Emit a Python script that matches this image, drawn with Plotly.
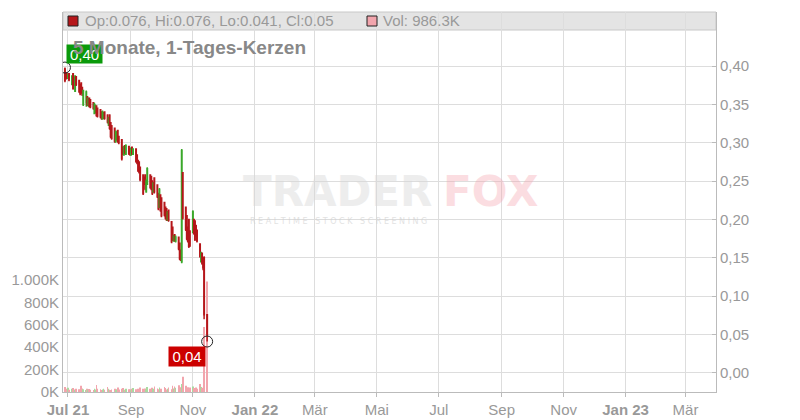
import plotly.graph_objects as go

# ---------------- data ----------------
dates = [
    "2021-06-28", "2021-06-29", "2021-06-30",
    "2021-07-01", "2021-07-02", "2021-07-05", "2021-07-06", "2021-07-07", "2021-07-08", "2021-07-09",
    "2021-07-12", "2021-07-13", "2021-07-14", "2021-07-15", "2021-07-16", "2021-07-19", "2021-07-20",
    "2021-07-21", "2021-07-22", "2021-07-23", "2021-07-26", "2021-07-27", "2021-07-28", "2021-07-29",
    "2021-07-30",
    "2021-08-02", "2021-08-03", "2021-08-04", "2021-08-05", "2021-08-06", "2021-08-09", "2021-08-10",
    "2021-08-11", "2021-08-12", "2021-08-13", "2021-08-16", "2021-08-17", "2021-08-18", "2021-08-19",
    "2021-08-20", "2021-08-23", "2021-08-24", "2021-08-25", "2021-08-26", "2021-08-27", "2021-08-30",
    "2021-08-31",
    "2021-09-01", "2021-09-02", "2021-09-03", "2021-09-06", "2021-09-07", "2021-09-08", "2021-09-09",
    "2021-09-10", "2021-09-13", "2021-09-14", "2021-09-15", "2021-09-16", "2021-09-17", "2021-09-20",
    "2021-09-21", "2021-09-22", "2021-09-23", "2021-09-24", "2021-09-27", "2021-09-28", "2021-09-29",
    "2021-09-30",
    "2021-10-01", "2021-10-04", "2021-10-05", "2021-10-06", "2021-10-07", "2021-10-08", "2021-10-11",
    "2021-10-12", "2021-10-13", "2021-10-14", "2021-10-15", "2021-10-18", "2021-10-19", "2021-10-20",
    "2021-10-21", "2021-10-22", "2021-10-25", "2021-10-26", "2021-10-27", "2021-10-28", "2021-10-29",
    "2021-11-01", "2021-11-02", "2021-11-03", "2021-11-04", "2021-11-05", "2021-11-08", "2021-11-09",
    "2021-11-10", "2021-11-11", "2021-11-12", "2021-11-15",
]

open_ = [
    .396, .391, .389,
    .384, .390, .376, .390, .385, .367, .386, .381, .376, .378, .372, .350, .352, .360, .349, .358, .356,
    .352, .338, .340, .348, .345,
    .343, .340, .331, .333, .340, .336, .323, .336, .326, .322, .319, .302, .305, .316, .308, .304, .294,
    .284, .296, .285, .295, .292,
    .284, .294, .285, .292, .284, .277, .275, .268, .258, .255, .258, .236, .246, .258, .256, .250, .236,
    .254, .245, .234, .216, .232,
    .228, .222, .216, .214, .199, .212, .197, .190, .172, .180, .172, .177, .169, .160, .145, .261, .216,
    .205, .190, .200, .185,
    .183, .200, .198, .192, .186, .168, .145, .156, .150, .150, .076,
]
high = [
    .398, .392, .391,
    .390, .391, .388, .391, .386, .388, .387, .382, .377, .379, .373, .369, .368, .361, .359, .359, .357,
    .353, .352, .350, .349, .346,
    .344, .341, .342, .340, .341, .337, .334, .337, .327, .323, .320, .316, .315, .317, .309, .305, .295,
    .296, .297, .298, .296, .293,
    .294, .295, .293, .293, .285, .278, .276, .269, .259, .256, .259, .252, .268, .259, .257, .251, .249,
    .255, .246, .235, .241, .233,
    .229, .223, .217, .215, .211, .213, .198, .191, .180, .181, .179, .178, .170, .161, .292, .262, .217,
    .206, .191, .201, .186,
    .212, .201, .199, .193, .187, .169, .158, .157, .151, .152, .076,
]
low = [
    .379, .382, .383,
    .383, .380, .375, .369, .374, .366, .374, .365, .362, .364, .361, .348, .347, .348, .347, .346, .345,
    .343, .337, .338, .334, .333,
    .332, .330, .330, .331, .330, .325, .322, .317, .306, .304, .300, .300, .303, .300, .298, .277, .284,
    .283, .285, .284, .284, .283,
    .283, .284, .284, .274, .272, .262, .260, .250, .232, .245, .238, .235, .245, .240, .238, .232, .235,
    .234, .228, .212, .215, .210,
    .203, .204, .200, .198, .198, .197, .169, .172, .171, .171, .170, .160, .147, .146, .143, .200, .185,
    .173, .170, .163, .164,
    .182, .180, .172, .178, .170, .150, .144, .141, .134, .070, .041,
]
close = [
    .381, .384, .385,
    .389, .382, .387, .371, .376, .387, .376, .367, .364, .366, .363, .368, .366, .350, .358, .348, .347,
    .345, .350, .348, .336, .335,
    .334, .332, .340, .338, .332, .327, .333, .319, .308, .306, .302, .314, .313, .302, .300, .279, .286,
    .294, .288, .296, .286, .285,
    .292, .286, .292, .276, .274, .264, .262, .252, .234, .247, .240, .250, .266, .242, .240, .234, .247,
    .236, .230, .214, .239, .212,
    .205, .206, .202, .200, .209, .199, .171, .174, .178, .173, .177, .162, .149, .148, .290, .202, .187,
    .175, .172, .165, .166,
    .210, .182, .174, .180, .172, .152, .156, .143, .137, .076, .050,
]
volume_k = [
    45, 30, 25,
    38, 20, 28, 35, 22, 18, 30, 25, 20, 56, 32, 24, 18, 30, 22, 26, 20, 15, 28, 22, 62, 30,
    25, 18, 22, 30, 20, 45, 28, 20, 15, 22, 30, 18, 25, 40, 22, 28, 35, 20, 18, 30, 25, 22,
    20, 28, 35, 25, 18, 30, 22, 40, 28, 20, 32, 25, 45, 30, 22, 38, 28, 50, 32, 25, 40, 30,
    28, 45, 35, 22, 30, 40, 25, 55, 32, 48, 38, 60, 42, 30, 71, 137, 55, 35, 42, 28, 40,
    48, 35, 25, 40, 30, 71, 45, 38, 30, 580, 986.3,
]

x_tickvals = ["2021-07-01", "2021-09-01", "2021-11-01", "2022-01-01", "2022-03-01", "2022-05-01",
              "2022-07-01", "2022-09-01", "2022-11-01", "2023-01-01", "2023-03-01"]
x_ticktext = ["<b>Jul 21</b>", "Sep", "Nov", "<b>Jan 22</b>", "Mär", "Mai", "Jul", "Sep", "Nov",
              "<b>Jan 23</b>", "Mär"]
price_ticks = [0.0, 0.05, 0.10, 0.15, 0.20, 0.25, 0.30, 0.35, 0.40]
price_ticktext = ["0,00", "0,05", "0,10", "0,15", "0,20", "0,25", "0,30", "0,35", "0,40"]
vol_ticks = [0, 200000, 400000, 600000, 800000, 1000000]
vol_ticktext = ["0K", "200K", "400K", "600K", "800K", "1.000K"]

title_text = "5 Monate, 1-Tages-Kerzen"

# ---------------- styling ----------------
RED = "#b5161a"
GREEN = "#3aa82a"
VOL_RED = "#f2a5ad"
VOL_GREEN = "#a8dba0"
GRID = "#dddddd"
AXIS = "#bbbbbb"
TXT = "#999999"
FONT = "Liberation Sans, Arial, sans-serif"

L, R, T, B = 63, 84, 12, 28
W, H = 800, 420
PW, PH = W - L - R, H - T - B


def px(x):
    return (x - L) / PW


def py(y):
    return (H - B - y) / PH


volumes = [v * 1000 for v in volume_k]
vol_colors = [VOL_GREEN if c > o else VOL_RED for o, c in zip(open_, close)]

fig = go.Figure()

# volume on the main (left) axis so the candles drawn on the overlaying axis sit on top
fig.add_trace(go.Bar(
    x=dates, y=volumes, yaxis="y", marker=dict(color=vol_colors, line=dict(width=0)),
    showlegend=False, hoverinfo="skip",
))

fig.add_trace(go.Candlestick(
    x=dates, open=open_, high=high, low=low, close=close,
    increasing=dict(line=dict(color=GREEN, width=1.5), fillcolor=GREEN),
    decreasing=dict(line=dict(color=RED, width=1.5), fillcolor=RED),
    whiskerwidth=0, showlegend=False, yaxis="y2",
))

# extreme markers
i_max = high.index(max(high))
i_min = low.index(min(low))
fig.add_trace(go.Scatter(
    x=[dates[i_max], dates[i_min]], y=[high[i_max], low[i_min]], mode="markers", yaxis="y2",
    marker=dict(symbol="circle-open", size=11, color="#222222", line=dict(width=1)),
    showlegend=False, hoverinfo="skip",
))

fig.update_layout(
    width=W, height=H,
    margin=dict(l=L, r=R, t=T, b=B, autoexpand=False),
    paper_bgcolor="white", plot_bgcolor="white",
    font=dict(family=FONT, size=15, color=TXT),
    bargap=0.35,
    showlegend=False,
    xaxis=dict(
        type="date", range=["2021-06-26 02:00", "2023-03-31"],
        tickvals=x_tickvals, ticktext=x_ticktext,
        showgrid=True, gridcolor=GRID, gridwidth=1,
        showline=True, linecolor=AXIS, linewidth=1,
        ticks="outside", ticklen=4, tickcolor=AXIS,
        tickfont=dict(size=15, color=TXT),
        rangeslider=dict(visible=False), zeroline=False, automargin=False,
    ),
    yaxis=dict(
        side="left", range=[0, 3393000],
        tickvals=vol_ticks, ticktext=vol_ticktext,
        showgrid=False, showline=True, linecolor=AXIS, linewidth=1,
        ticks="", tickfont=dict(size=15, color=TXT), zeroline=False, automargin=False,
    ),
    yaxis2=dict(
        overlaying="y", side="right", range=[-0.0248, 0.4704],
        tickvals=price_ticks, ticktext=price_ticktext,
        showgrid=True, gridcolor=GRID, gridwidth=1,
        showline=True, linecolor=AXIS, linewidth=1,
        ticks="inside", ticklen=4, tickcolor=AXIS,
        tickfont=dict(size=15, color=TXT), zeroline=False, automargin=False,
    ),
)

# header band
fig.add_shape(type="rect", xref="paper", yref="paper", x0=0, x1=1, y0=py(30), y1=1,
              fillcolor="#e4e4e4", line=dict(color="#c8c8c8", width=1), layer="below")
fig.add_shape(type="rect", xref="paper", yref="paper", x0=px(68), x1=px(78), y0=py(26), y1=py(16),
              fillcolor=RED, line=dict(color="#222222", width=1))
fig.add_shape(type="rect", xref="paper", yref="paper", x0=px(367), x1=px(377), y0=py(26), y1=py(16),
              fillcolor=VOL_RED, line=dict(color="#222222", width=1))

header = f"Op:{open_[-1]:g}, Hi:{high[-1]:g}, Lo:{low[-1]:g}, Cl:{close[-1]:g}"
fig.add_annotation(xref="paper", yref="paper", x=px(83), y=py(21), text=header, showarrow=False,
                   xanchor="left", yanchor="middle", font=dict(size=15, color=TXT, family=FONT))
fig.add_annotation(xref="paper", yref="paper", x=px(381), y=py(21), text=f"Vol: {volume_k[-1]:g}K",
                   showarrow=False, xanchor="left", yanchor="middle",
                   font=dict(size=15, color=TXT, family=FONT))

# watermark
fig.add_annotation(xref="paper", yref="paper", x=px(337), y=py(191), text="<b>TRADER</b>", showarrow=False,
                   xanchor="center", yanchor="middle",
                   font=dict(size=42, color="#d8d8d8", family="DejaVu Sans"), opacity=0.45)
fig.add_annotation(xref="paper", yref="paper", x=px(490), y=py(191), text="<b>FOX</b>", showarrow=False,
                   xanchor="center", yanchor="middle",
                   font=dict(size=42, color="#f5a0aa", family="DejaVu Sans"), opacity=0.35)
fig.add_annotation(xref="paper", yref="paper", x=px(338), y=py(221),
                   text="R E A L T I M E   S T O C K   S C R E E N I N G", showarrow=False,
                   xanchor="center", yanchor="middle",
                   font=dict(size=8, color="#d0d0d0", family="DejaVu Sans"), opacity=0.6)

# price labels
fig.add_annotation(xref="paper", yref="paper", x=px(84.5), y=py(54),
                   text=f"{high[i_max]:.2f}".replace(".", ","), showarrow=False,
                   xanchor="center", yanchor="middle",
                   bgcolor="#0a9a0a", width=35, height=18, borderpad=0,
                   font=dict(size=15, color="white", family=FONT))
fig.add_annotation(xref="paper", yref="paper", x=px(187), y=py(356),
                   text=f"{low[i_min]:.2f}".replace(".", ","), showarrow=False,
                   xanchor="center", yanchor="middle",
                   bgcolor="#cc0000", width=36, height=19, borderpad=0,
                   font=dict(size=15, color="white", family=FONT))

# title (on top of the green label)
fig.add_annotation(xref="paper", yref="paper", x=px(71), y=py(48), text=f"<b>{title_text}</b>",
                   showarrow=False, xanchor="left", yanchor="middle",
                   font=dict(size=19, color="#888888", family=FONT))

fig.write_html("out.html", config={"displayModeBar": False},
               post_script="document.body.style.margin='0';document.body.style.padding='0';")
